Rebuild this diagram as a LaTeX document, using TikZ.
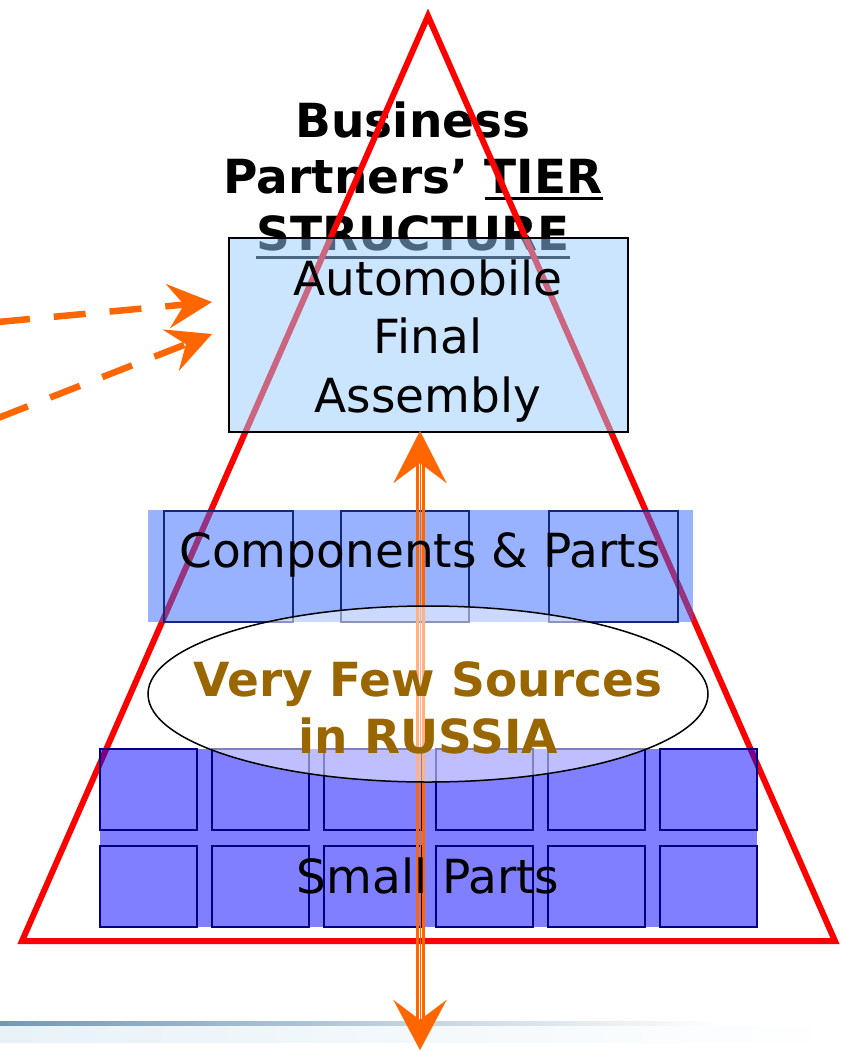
\documentclass[tikz,border=0pt]{standalone}
\usepackage{fontspec}
\setmainfont{DejaVu Sans}
\usetikzlibrary{arrows.meta,shapes.geometric}
\definecolor{arrorange}{RGB}{255,102,0}
\definecolor{trired}{RGB}{255,0,0}
\definecolor{boxblue}{RGB}{151,204,255}
\definecolor{compblue}{RGB}{51,102,255}
\definecolor{smallblue}{RGB}{0,0,255}
\definecolor{navyline}{RGB}{0,0,128}
\definecolor{compline}{RGB}{20,40,120}
\definecolor{brownish}{RGB}{153,102,0}
\definecolor{bandblue}{RGB}{115,152,182}
\definecolor{bandlight}{RGB}{232,242,248}
\newcommand\myul[2]{\vtop{\hbox{#1}\kern#2\hrule height 3bp}}
\begin{document}
\begin{tikzpicture}[x=1bp,y=-1bp,
  bigtext/.style={font=\fontsize{47bp}{57bp}\selectfont, inner sep=0pt, anchor=base},
  boldtext/.style={bigtext, font=\fontsize{47bp}{57bp}\selectfont\bfseries},
  finalbox/.style={draw=black, line width=2bp, fill=boxblue, fill opacity=0.5, draw opacity=1, inner sep=0pt},
  compband/.style={fill=compblue, fill opacity=0.5, inner sep=0pt},
  compcell/.style={draw=compline, line width=2bp, inner sep=0pt, minimum width=128.5bp, minimum height=111bp},
  smallband/.style={fill=smallblue, fill opacity=0.5, inner sep=0pt},
  smallcell/.style={draw=navyline, line width=1.8bp, inner sep=0pt, minimum width=97bp, minimum height=81bp},
  fewsrc/.style={ellipse, draw=black, line width=1.5bp, fill=white, fill opacity=0.5, draw opacity=1, inner sep=0pt, minimum width=560bp, minimum height=176bp},
  dasharrow/.style={draw=arrorange, line width=6.5bp, dash pattern=on 32bp off 24bp, -{Stealth[length=44bp, width=44bp, inset=16bp]}},
  headonly/.style={draw=arrorange, fill=arrorange, line width=0.1bp, {Stealth[length=52bp, width=53bp, inset=20bp]}-{Stealth[length=50bp, width=53bp, inset=20bp]}},
  railline/.style={draw=arrorange, line width=3bp, shorten <=30bp, shorten >=30bp}
]
\useasboundingbox (0,0) rectangle (844,1051);

% bottom band
\fill[left color=bandblue, right color=white] (0,1021) rectangle (720,1026);
\fill[left color=bandlight, right color=white] (0,1026) rectangle (844,1042);

% title
\node[boldtext] (t1) at (413,137) {Business};
\node[boldtext] (t2) at (413,193) {Partners’ \myul{TIER}{4bp}};
\node[boldtext] (t3) at (413,250) {\myul{STRUCTURE}{5bp}};

% triangle
\draw[trired, line width=6bp, line join=miter] (428,16) -- (22,941) -- (835,941) -- cycle;

% final assembly box
\node[finalbox, minimum width=399bp, minimum height=194bp] (box) at (428.5,335) {};
\node[bigtext] (b1) at (428,295) {Automobile};
\node[bigtext] (b2) at (428,353) {Final};
\node[bigtext] (b3) at (428,412) {Assembly};

% components
\node[compband, minimum width=544.5bp, minimum height=112bp] (comp) at (420.75,566) {};
\node[compcell] (c1) at (228.5,566) {};
\node[compcell] (c2) at (404.75,566) {};
\node[compcell] (c3) at (613.25,566) {};

% small parts
\node[smallband, minimum width=657bp, minimum height=178bp] (small) at (428.5,838) {};
\foreach \cx [count=\i] in {148.5,260.5,372.5,484.5,596.5,708.5}{
  \node[smallcell] (sa\i) at (\cx,789.5) {};
  \node[smallcell] (sb\i) at (\cx,886.5) {};
}

% vertical double arrow
\coordinate (up) at (420,431);
\coordinate (down) at (420,1050);
\draw[railline] ([xshift=-3bp]up) -- ([xshift=-3bp]down);
\draw[railline] ([xshift=3.3bp]up) -- ([xshift=3.3bp]down);
\draw[headonly] (up) -- (down);

% ellipse
\node[fewsrc] (few) at (428,694) {};

% texts on top
\node[bigtext] (ct) at (420,567) {Components \& Parts};
\node[boldtext, text=brownish] (f1) at (428,696) {Very Few Sources};
\node[boldtext, text=brownish] (f2) at (428,753) {in RUSSIA};
\node[bigtext] (st) at (428,893) {Small Parts};

% dashed arrows
\coordinate (d1s) at (-2,322);
\coordinate (d1e) at (212,302);
\coordinate (d2s) at (-2,418);
\coordinate (d2e) at (212,334);
\draw[dasharrow] (d1s) -- (d1e);
\draw[dasharrow] (d2s) -- (d2e);
\end{tikzpicture}
\end{document}
